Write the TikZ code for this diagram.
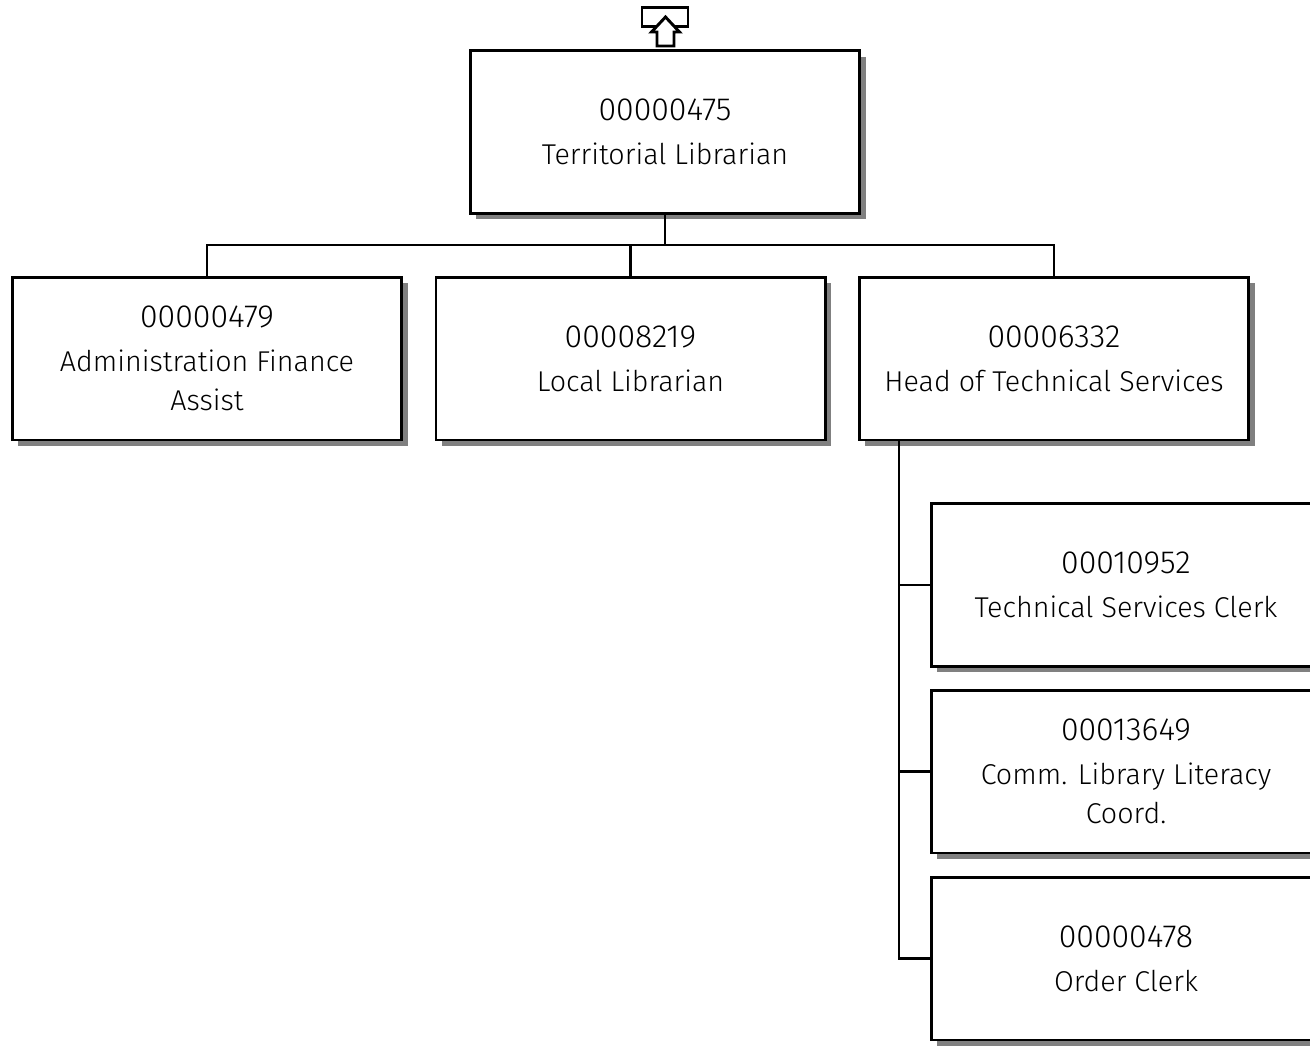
\documentclass[tikz,border=0pt]{standalone}
\usepackage{fontspec}
\setmainfont{Fira Sans}[UprightFont=* Light]
\usetikzlibrary{shadows}
\newcommand{\postno}[1]{{\fontsize{24}{29}\selectfont #1}}
\tikzset{
  post/.style={draw, line width=2pt, fill=white, minimum width=292pt, minimum height=122pt,
    inner sep=0pt, align=center, font=\fontsize{21.5}{29}\selectfont,
    drop shadow={shadow xshift=4.5pt, shadow yshift=-4.5pt, fill=black!50, opacity=1}},
  link/.style={line width=1.6pt}
}
\begin{document}
\begin{tikzpicture}[x=0.75pt,y=0.75pt,yscale=-1,xscale=1]
\useasboundingbox (0,0) rectangle (1310,1046);
\clip (0,0) rectangle (1310,1046);

% Position boxes
\node[post] (p475) at (665,132) {\postno{00000475}\\[4pt]Territorial Librarian};
\node[post] (p479) at (207,358.5) {\postno{00000479}\\[4pt]Administration Finance\\Assist};
\node[post] (p8219) at (630.5,358.5) {\postno{00008219}\\[4pt]Local Librarian};
\node[post] (p6332) at (1054,358.5) {\postno{00006332}\\[4pt]Head of Technical Services};
\node[post] (p10952) at (1126,585) {\postno{00010952}\\[4pt]Technical Services Clerk};
\node[post] (p13649) at (1126,771.5) {\postno{00013649}\\[4pt]Comm. Library Literacy\\Coord.};
\node[post] (p478) at (1126,958.5) {\postno{00000478}\\[4pt]Order Clerk};

% Connectors
\coordinate (bar) at (665,245);
\draw[link] (p475.south) -- (bar);
\draw[link] (p479.north) |- (bar) -| (p6332.north);
\draw[link] (bar) -| (p8219.north);
\coordinate (spine) at (899,441);
\foreach \n in {p10952,p13649,p478}
  \draw[link] (spine) |- (\n.west);

% Up marker
\draw[line width=2.2pt] (642,7.5) rectangle (688,26.5);
\draw[line width=2.2pt, fill=white] (665.5,17) -- (679.5,32) -- (674,32) -- (674,46) -- (657,46) -- (657,32) -- (651.5,32) -- cycle;

\end{tikzpicture}
\end{document}
